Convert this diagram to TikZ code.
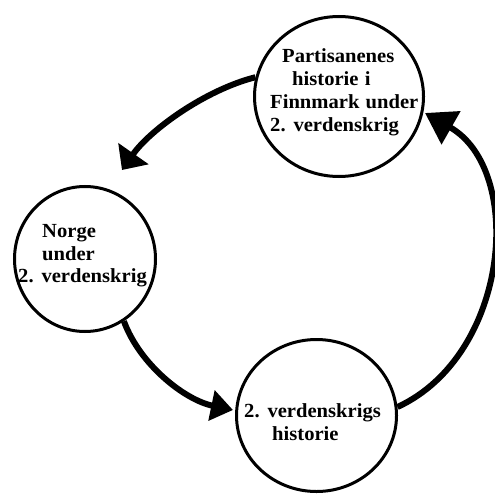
\documentclass[tikz,border=0pt]{standalone}
\usepackage{fontspec}
\setmainfont{Liberation Serif}
\newfontfamily\lblfont{Liberation Serif}[FakeStretch=1.03, WordSpace=1.2]
\usetikzlibrary{arrows.meta,shapes.geometric}
\begin{document}
\begin{tikzpicture}[x=1pt,y=-1pt,
  circ/.style={ellipse, draw=black, line width=3pt, inner sep=0pt, fill=white},
  lbl/.style={anchor=base west, inner sep=0pt, text=black, font=\lblfont\fontsize{20}{23}\selectfont\bfseries},
  arr/.style={draw=black, line width=6pt}]
\useasboundingbox (0,0) rectangle (494,494);
% circles
\node[circ, minimum width=169pt, minimum height=160pt] (top) at (339,96.5) {};
\node[circ, minimum width=141pt, minimum height=145pt] (left) at (85,259) {};
\node[circ, minimum width=160pt, minimum height=152pt] (bot) at (316.5,415.5) {};
% texts
\node[lbl] (t1) at (282,63) {Partisanenes};
\node[lbl] (t2) at (292,86) {historie i};
\node[lbl] (t3) at (270,109) {Finnmark under};
\node[lbl] (t4) at (270,132) {2. verdenskrig};
\node[lbl] (l1) at (42,237) {Norge};
\node[lbl] (l2) at (42,260) {under};
\node[lbl] (l3) at (18,282) {2. verdenskrig};
\node[lbl] (b1) at (244,417) {2. verdenskrigs};
\node[lbl] (b2) at (272,440) {historie};
% arrow tips
\coordinate (tipA) at (122,170);
\coordinate (tipB) at (233,410);
\coordinate (tipC) at (425,113);
% arrows
\draw[arr, -{Triangle[length=20pt,width=36pt]}] (top.167) .. controls (205,90) and (150,130) .. (tipA);
\draw[arr, -{Triangle[length=22pt,width=30pt]}] (left.302) .. controls (140,365) and (185,400) .. (tipB);
\draw[arr, -{Triangle[length=30pt,width=37pt]}] (bot.6) .. controls (510,355) and (525,170) .. (tipC);
\end{tikzpicture}
\end{document}
